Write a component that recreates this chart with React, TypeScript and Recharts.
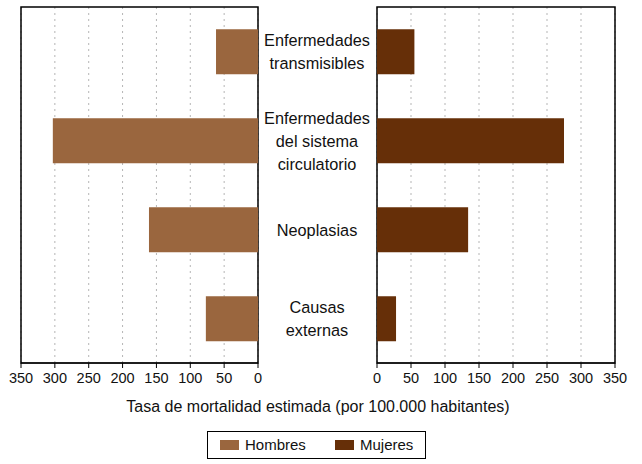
import { BarChart, Bar, XAxis, YAxis, CartesianGrid, ReferenceArea } from "recharts";

const causes = [
  "Enfermedades\ntransmisibles",
  "Enfermedades\ndel sistema\ncirculatorio",
  "Neoplasias",
  "Causas\nexternas",
];
const hombres = [62, 303, 161, 77];
const mujeres = [55, 275, 134, 28];
const ticks = [0, 50, 100, 150, 200, 250, 300, 350];
const seriesNames = ["Hombres", "Mujeres"];
const seriesColors = ["#9a663e", "#662f08"];

const data = causes.map((name, i) => ({ name, hombres: hombres[i], mujeres: mujeres[i] }));

const FONT = "'Liberation Sans', Arial, sans-serif";
const tickStyle = { fontSize: 14.5, fill: "#111", fontFamily: FONT };

function CauseTick(props: any) {
  const { x, y, payload } = props;
  const lines = String(payload.value).split("\n");
  const lh = 23;
  const cx = x - 8 + 59;
  const y0 = y - ((lines.length - 1) * lh) / 2;
  return (
    <text x={cx} y={y0} textAnchor="middle" dominantBaseline="central" fontSize={16.3} fill="#111" fontFamily={FONT}>
      {lines.map((l, i) => (
        <tspan key={i} x={cx} y={y0 + i * lh}>
          {l}
        </tspan>
      ))}
    </text>
  );
}

export default function App() {
  return (
    <div style={{ position: "absolute", left: 0, top: 0, width: 642, height: 464, background: "#fff", fontFamily: FONT }}>
      <div style={{ position: "absolute", left: 0, top: 0 }}>
        <BarChart width={376} height={392} data={data} layout="vertical" barCategoryGap="25%" margin={{ top: 7, right: 0, left: 21, bottom: 0 }}>
          <CartesianGrid horizontal={false} stroke="#b5b5b5" strokeDasharray="2 4" />
          <XAxis type="number" domain={[0, 350]} ticks={ticks} reversed interval={0} tick={tickStyle} tickSize={5} tickMargin={5} stroke="#000" height={29} />
          <YAxis type="category" dataKey="name" orientation="right" width={118} axisLine={false} tickLine={false} tick={<CauseTick />} />
          <ReferenceArea x1={0} x2={350} stroke="#000" strokeWidth={1.5} fill="none" fillOpacity={0} />
          <Bar dataKey="hombres" fill={seriesColors[0]} isAnimationActive={false} />
        </BarChart>
      </div>
      <div style={{ position: "absolute", left: 356, top: 0 }}>
        <BarChart width={286} height={392} data={data} layout="vertical" barCategoryGap="25%" margin={{ top: 7, right: 27, left: 21, bottom: 0 }}>
          <CartesianGrid horizontal={false} stroke="#b5b5b5" strokeDasharray="2 4" />
          <XAxis type="number" domain={[0, 350]} ticks={ticks} interval={0} tick={tickStyle} tickSize={5} tickMargin={5} stroke="#000" height={29} />
          <YAxis type="category" dataKey="name" hide />
          <ReferenceArea x1={0} x2={350} stroke="#000" strokeWidth={1.5} fill="none" fillOpacity={0} />
          <Bar dataKey="mujeres" fill={seriesColors[1]} isAnimationActive={false} />
        </BarChart>
      </div>
      <div style={{ position: "absolute", left: 0, width: 636, top: 398, textAlign: "center", fontSize: 16, color: "#111" }}>
        Tasa de mortalidad estimada (por 100.000 habitantes)
      </div>
      <div style={{ position: "absolute", left: 207, top: 431, width: 219, height: 28, border: "1.5px solid #000", boxSizing: "border-box" }}>
        {seriesNames.map((n, i) => (
          <div key={n} style={{ position: "absolute", left: i === 0 ? 12 : 127, top: 6, display: "flex", alignItems: "center", fontSize: 15, color: "#111", lineHeight: "14px" }}>
            <span style={{ display: "inline-block", width: 19, height: 10, background: seriesColors[i], marginRight: 6 }} />
            {n}
          </div>
        ))}
      </div>
    </div>
  );
}
